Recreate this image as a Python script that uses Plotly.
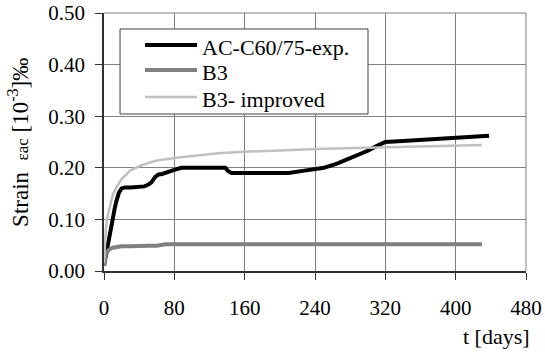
import plotly.graph_objects as go

# AC-C60/75 experimental
exp_t = [0, 2, 4, 6, 8, 10, 12, 14, 17, 20, 24, 30, 40, 46, 50, 54, 58, 62, 66, 72, 80, 88, 95, 110, 125, 138, 141, 145,
         160, 180, 200, 210, 230, 250, 265, 280, 300, 310, 320, 340, 360, 380, 400, 420, 438]
exp_y = [0.01, 0.03, 0.05, 0.07, 0.09, 0.105, 0.12, 0.135, 0.152, 0.16, 0.162, 0.162, 0.163, 0.164, 0.167, 0.172, 0.182,
         0.187, 0.188, 0.192, 0.196, 0.2, 0.2, 0.2, 0.2, 0.2, 0.194, 0.19, 0.19, 0.19, 0.19, 0.19, 0.195, 0.2, 0.208,
         0.218, 0.233, 0.242, 0.25, 0.252, 0.254, 0.255, 0.257, 0.259, 0.262]

# B3 model
b3_t = [0, 1, 2, 4, 6, 10, 15, 20, 30, 40, 50, 60, 65, 70, 80, 100, 120, 140, 160, 200, 300, 400, 430]
b3_y = [0.01, 0.025, 0.032, 0.038, 0.042, 0.045, 0.047, 0.048, 0.048, 0.049, 0.049, 0.049, 0.05, 0.052, 0.052, 0.052,
        0.053, 0.053, 0.053, 0.052, 0.052, 0.052, 0.052]

# B3 improved
b3i_t = [0, 1, 2, 4, 7, 10, 15, 20, 30, 40, 50, 60, 80, 100, 130, 160, 200, 250, 300, 350, 400, 430]
b3i_y = [0.015, 0.05, 0.08, 0.105, 0.13, 0.148, 0.165, 0.178, 0.195, 0.203, 0.209, 0.214, 0.219, 0.223, 0.228, 0.231,
         0.234, 0.237, 0.239, 0.241, 0.243, 0.244]

series_names = ["AC-C60/75-exp.", "B3", "B3- improved"]
series_colors = ["#000000", "#808080", "#c0c0c0"]
series_widths = [4, 4, 2.5]

x_ticks = [0, 80, 160, 240, 320, 400, 480]
y_ticks = [0.0, 0.1, 0.2, 0.3, 0.4, 0.5]

FONT = "Liberation Serif"

fig = go.Figure()
for (xs, ys), name, col, w in zip([(exp_t, exp_y), (b3_t, b3_y), (b3i_t, b3i_y)],
                                  series_names, series_colors, series_widths):
    fig.add_trace(go.Scatter(x=xs, y=ys, mode="lines", name=name,
                             line=dict(color=col, width=w), showlegend=False))

# legend box drawn in paper coordinates (matches the reference's framed legend)
leg_x0, leg_x1, leg_y0, leg_y1 = 0.038, 0.6256, 0.6085, 0.938
row_y = [0.876, 0.779, 0.674]
shapes = [
    dict(type="line", xref="paper", yref="paper", x0=0, x1=1, y0=1, y1=1,
         line=dict(color="#808080", width=1)),
    dict(type="line", xref="paper", yref="paper", x0=1, x1=1, y0=0, y1=1,
         line=dict(color="#808080", width=1)),
    dict(type="rect", xref="paper", yref="paper", x0=leg_x0, x1=leg_x1, y0=leg_y0, y1=leg_y1,
         fillcolor="white", line=dict(color="#404040", width=1), layer="above"),
]
annotations = []
for name, col, w, ry in zip(series_names, series_colors, series_widths, row_y):
    shapes.append(dict(type="line", xref="paper", yref="paper", x0=0.0972, x1=0.2204, y0=ry, y1=ry,
                       line=dict(color=col, width=w), layer="above"))
    annotations.append(dict(text=name, xref="paper", yref="paper", x=0.2275, y=ry - 0.008,
                            xanchor="left", yanchor="middle", showarrow=False,
                            font=dict(family=FONT, size=22, color="black")))

annotations += [
    dict(text="t [days]", xref="paper", yref="paper", x=0.929, y=-0.252,
         xanchor="center", yanchor="middle", showarrow=False,
         font=dict(family=FONT, size=22, color="black")),
    dict(text="Strain  <span style='font-size:17px'>εac</span> [10<sup>-3</sup>]‰",
         xref="paper", yref="paper", x=-0.204, y=0.5, textangle=-90,
         xanchor="center", yanchor="middle", showarrow=False,
         font=dict(family=FONT, size=23, color="black")),
]

fig.update_layout(
    template="none",
    width=545, height=354,
    margin=dict(l=104, r=19, t=13, b=83, autoexpand=False),
    paper_bgcolor="white", plot_bgcolor="white",
    font=dict(family=FONT, size=21, color="black"),
    showlegend=False,
    xaxis=dict(range=[0, 480], tickvals=x_ticks, ticktext=[str(v) for v in x_ticks],
               automargin=False,
               tickfont=dict(family=FONT, size=21, color="black"),
               showgrid=True, gridcolor="#808080", gridwidth=1,
               showline=True, linecolor="#303030", linewidth=1.5,
               ticks="outside", ticklen=7, tickcolor="#303030", tickwidth=1,
               zeroline=False, ticklabelstandoff=10),
    yaxis=dict(range=[0, 0.5], tickvals=y_ticks, ticktext=["%.2f" % v for v in y_ticks],
               automargin=False,
               tickfont=dict(family=FONT, size=21, color="black"),
               showgrid=True, gridcolor="#808080", gridwidth=1,
               showline=True, linecolor="#303030", linewidth=1.5,
               ticks="outside", ticklen=7, tickcolor="#303030", tickwidth=1,
               zeroline=False, ticklabelstandoff=6),
    annotations=annotations,
    shapes=shapes,
)

fig.write_html("out.html")
